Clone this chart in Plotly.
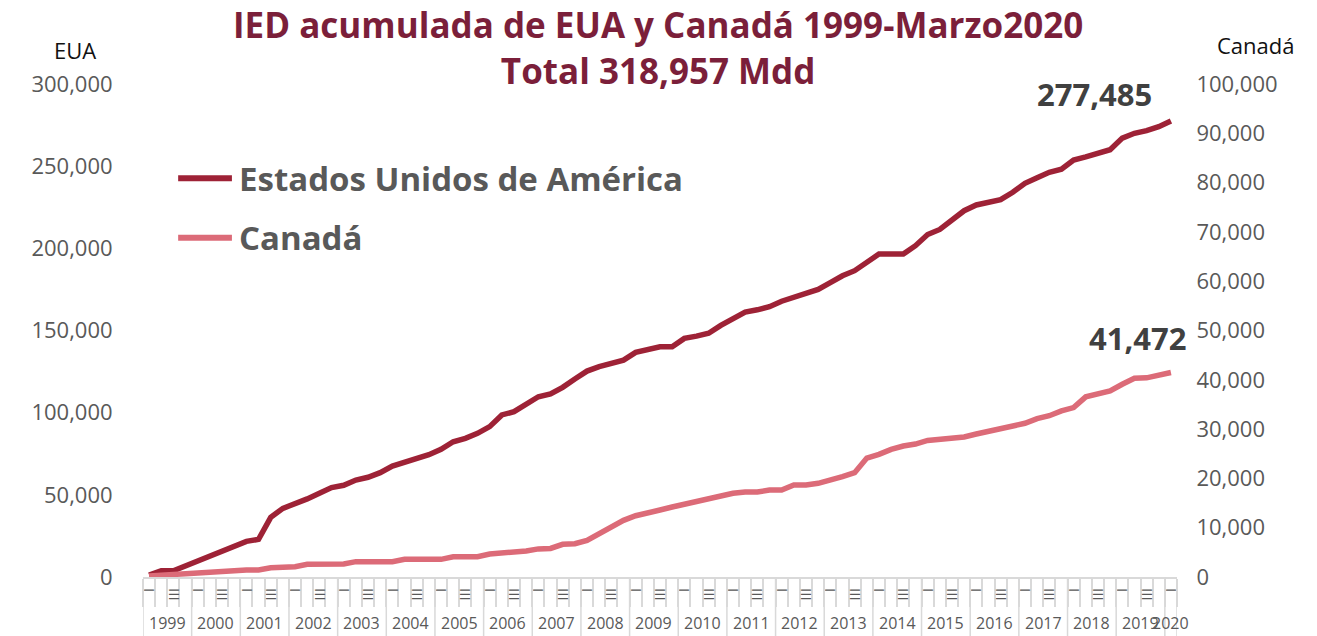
import plotly.graph_objects as go

years = list(range(1999, 2021))
quarter_names = ["I", "II", "III", "IV"]

eua = [1200, 3800, 3800, 6700, 10150, 13400, 15800, 18450, 21700, 22900,
       36300, 41800, 44400, 47500, 50900, 54400, 55800, 59000, 60700, 63500,
       67500, 69600, 71600, 74400, 77700, 82300, 84400, 87400, 91500, 98600,
       100600, 104700, 109700, 111400, 115400, 120500, 125300, 128000, 130400, 132000,
       136700, 138300, 140100, 140100, 145200, 146600, 148300, 153100, 157400, 161200,
       162600, 164500, 167800, 170200, 173000, 175000, 179100, 183300, 186400, 191500,
       196500, 196500, 196500, 201600, 208400, 211500, 216800, 222900, 226400, 228000,
       229600, 234100, 239600, 243000, 246300, 248100, 253700, 255600, 258200, 260000,
       267100, 270000, 271600, 274000, 277485]

canada = [200, 270, 400, 670, 800, 870, 950, 1280, 1420, 1420,
          1890, 1960, 2090, 2570, 2570, 2570, 2640, 3110, 3110, 3110,
          3110, 3580, 3580, 3580, 3580, 4120, 4120, 4120, 4660, 4800,
          5140, 5270, 5700, 5800, 6630, 6760, 7440, 8860, 10340, 11490,
          12430, 12920, 13590, 14200, 14800, 15210, 15760, 16500, 16970, 17240,
          17240, 17640, 17640, 18660, 18660, 19000, 19530, 20340, 21150, 24130,
          24880, 25890, 26560, 26970, 27700, 28000, 28360, 28400, 29000, 29580,
          30100, 30650, 31180, 32120, 32720, 33680, 34360, 36540, 37150, 37760,
          39100, 40300, 40400, 40900, 41472]

series_names = ["Estados Unidos de América", "Canadá"]
series_colors = ["#9e2236", "#dc6b78"]
eua_label = "277,485"
canada_label = "41,472"
title_text = "IED acumulada de EUA y Canadá 1999-Marzo2020<br>Total 318,957 Mdd"

# periods: quarters from 1999-I to 2020-I
periods = [(y, q) for y in years for q in quarter_names][:len(eua)]
xs = list(range(len(periods)))
tick_text = [q if q in ("I", "III") else "" for (_, q) in periods]

FONT = "Open Sans"
GRAY = "#595959"
AXGRAY = "#d9d9d9"
TITLE_COLOR = "#7b1f3a"

fig = go.Figure()
fig.add_trace(go.Scatter(x=xs, y=eua, mode="lines", name=series_names[0],
                         line=dict(color=series_colors[0], width=5.5)))
fig.add_trace(go.Scatter(x=xs, y=canada, mode="lines", name=series_names[1], yaxis="y2",
                         line=dict(color=series_colors[1], width=5.5)))

shapes = []
annotations = []

# year separators and labels
for y in years:
    idx = [i for i, (yy, _) in enumerate(periods) if yy == y]
    if not idx:
        continue
    shapes.append(dict(type="line", xref="x", yref="paper", x0=idx[0] - 0.5, x1=idx[0] - 0.5,
                       y0=0, y1=-0.12, line=dict(color=AXGRAY, width=1.5)))
    annotations.append(dict(x=(idx[0] + idx[-1]) / 2, y=0, xref="x", yref="paper",
                            yshift=-46, text=str(y), showarrow=False, yanchor="middle",
                            font=dict(family=FONT, size=16, color=GRAY)))
shapes.append(dict(type="line", xref="x", yref="paper", x0=xs[-1] + 0.5, x1=xs[-1] + 0.5,
                   y0=0, y1=-0.12, line=dict(color=AXGRAY, width=1.5)))

# manual legend
legend_y = [0.809, 0.688]
for name, color, ly in zip(series_names, series_colors, legend_y):
    shapes.append(dict(type="line", xref="paper", yref="paper", x0=0.034, x1=0.086,
                       y0=ly, y1=ly, line=dict(color=color, width=6)))
    annotations.append(dict(x=0.091, y=ly, xref="paper", yref="paper", text=name,
                            showarrow=False, xanchor="left", yanchor="middle",
                            font=dict(family=FONT, size=33, color=GRAY, weight="bold")))

# end-value labels
annotations.append(dict(x=xs[-1], y=eua[-1], xref="x", yref="y", text=eua_label,
                        showarrow=False, xanchor="center", yanchor="bottom",
                        xshift=-76, yshift=4,
                        font=dict(family=FONT, size=31, color="#404040", weight="bold")))
annotations.append(dict(x=xs[-1], y=canada[-1], xref="x", yref="y2", text=canada_label,
                        showarrow=False, xanchor="center", yanchor="bottom",
                        xshift=-33, yshift=12,
                        font=dict(family=FONT, size=31, color="#404040", weight="bold")))

# axis titles
annotations.append(dict(x=-0.066, y=1.069, xref="paper", yref="paper", text="EUA",
                        showarrow=False, xanchor="center", yanchor="middle",
                        font=dict(family=FONT, size=22, color="#111111")))
annotations.append(dict(x=1.037, y=1.079, xref="paper", yref="paper", text="Canadá",
                        showarrow=False, xanchor="left", yanchor="middle",
                        font=dict(family=FONT, size=22, color="#111111")))

# title (two lines)
annotations.append(dict(x=0.498, y=1.074, xref="paper", yref="paper", text=title_text,
                        showarrow=False, xanchor="center", yanchor="middle", align="center",
                        font=dict(family=FONT, size=35, color=TITLE_COLOR, weight="bold")))

fig.update_layout(
    width=1309, height=628,
    margin=dict(l=135, r=140, t=76, b=59),
    paper_bgcolor="white", plot_bgcolor="white",
    showlegend=False,
    xaxis=dict(range=[-0.5, xs[-1] + 0.5], tickmode="array", tickvals=xs, ticktext=tick_text,
               tickangle=90, ticks="", showgrid=False, zeroline=False,
               showline=True, linecolor=AXGRAY, linewidth=2,
               ticklabelstandoff=6,
               tickfont=dict(family=FONT, size=15, color=GRAY),
               minor=dict(tickmode="array", tickvals=[x - 0.5 for x in xs] + [xs[-1] + 0.5],
                          ticks="outside", ticklen=28, tickcolor=AXGRAY, tickwidth=1.5,
                          showgrid=False)),
    yaxis=dict(range=[0, 300000], tickmode="linear", tick0=0, dtick=50000,
               tickformat=",d", showgrid=False, zeroline=False, showline=False,
               ticks="outside", ticklen=25, tickcolor="rgba(0,0,0,0)",
               tickfont=dict(family=FONT, size=22, color=GRAY)),
    yaxis2=dict(range=[0, 100000], tickmode="linear", tick0=0, dtick=10000,
                tickformat=",d", overlaying="y", side="right", showgrid=False,
                zeroline=False, showline=False,
                ticks="outside", ticklen=14, tickcolor="rgba(0,0,0,0)",
                tickfont=dict(family=FONT, size=22, color=GRAY)),
    shapes=shapes,
    annotations=annotations,
)

fig.write_html("out.html")
